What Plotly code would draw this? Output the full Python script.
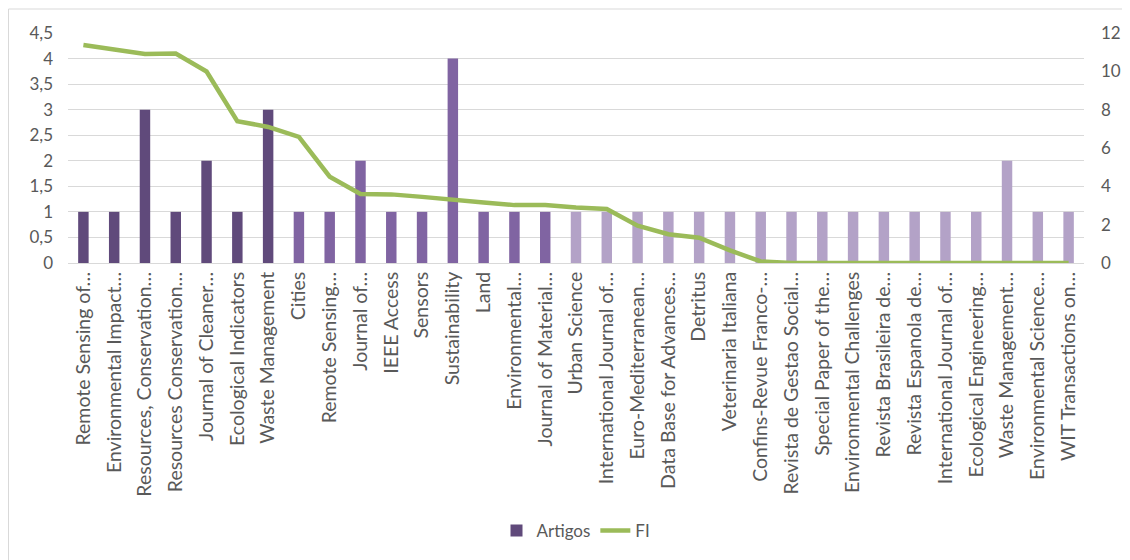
import plotly.graph_objects as go

categories = [
    "Remote Sensing of…", "Environmental Impact…", "Resources, Conservation…",
    "Resources Conservation…", "Journal of Cleaner…", "Ecological Indicators",
    "Waste Management", "Cities", "Remote Sensing…", "Journal of…", "IEEE Access",
    "Sensors", "Sustainability", "Land", "Environmental…", "Journal of Material…",
    "Urban Science", "International Journal of…", "Euro-Mediterranean…",
    "Data Base for Advances…", "Detritus", "Veterinaria Italiana",
    "Confins-Revue Franco-…", "Revista de Gestao Social…", "Special Paper of the…",
    "Environmental Challenges", "Revista Brasileira de…", "Revista Espanola de…",
    "International Journal of…", "Ecological Engineering…", "Waste Management…",
    "Environmental Science…", "WIT Transactions on…",
]
artigos = [1, 1, 3, 1, 2, 1, 3, 1, 1, 2, 1, 1, 4, 1, 1, 1,
           1, 1, 1, 1, 1, 1, 1, 1, 1, 1, 1, 1, 1, 1, 2, 1, 1]
fi = [11.37, 11.16, 10.9, 10.93, 9.99, 7.4, 7.1, 6.58, 4.5, 3.6, 3.58, 3.45,
      3.28, 3.16, 3.02, 3.02, 2.9, 2.82, 1.95, 1.5, 1.32, 0.66, 0.08,
      0, 0, 0, 0, 0, 0, 0, 0, 0, 0]
groups = [0]*7 + [1]*9 + [2]*17
group_colors = ["#604A7B", "#8064A2", "#B3A2C7"]
bar_colors = [group_colors[g] for g in groups]

x = list(range(len(categories)))
text_color = "#595959"
font_family = "Lato, 'Open Sans', sans-serif"

fig = go.Figure()
fig.add_trace(go.Bar(
    x=x, y=artigos, name="Artigos", marker=dict(color=bar_colors, line=dict(width=0)),
    yaxis="y",
))
fig.add_trace(go.Scatter(
    x=x, y=fi, name="FI", mode="lines", line=dict(color="#9BBB59", width=4.5),
    yaxis="y2",
))

W, H = 1122, 552
L, R, T, B = 60, 46, 25, 297
fig.update_layout(
    width=W, height=H,
    margin=dict(l=L, r=R, t=T, b=B, autoexpand=False),
    paper_bgcolor="white", plot_bgcolor="white",
    separators=", ",
    font=dict(family=font_family, color=text_color, size=17),
    bargap=0.66,
    showlegend=True,
    legend=dict(orientation="h", x=0.5, xanchor="center", y=-1.165, yanchor="middle",
                font=dict(size=17, color=text_color), traceorder="normal"),
    xaxis=dict(
        tickmode="array", tickvals=x, ticktext=categories, tickangle=-90,
        range=[-0.5, len(categories) - 0.5], showgrid=False,
        showline=True, linecolor="#D9D9D9", linewidth=1, ticks="",
        tickfont=dict(size=19.5, color=text_color),
    ),
    yaxis=dict(
        range=[0, 4.5], tick0=0, dtick=0.5, showgrid=True, gridcolor="#D9D9D9",
        gridwidth=1, zeroline=False, showline=False, ticks="",
        tickfont=dict(size=17, color=text_color), ticklabelstandoff=14,
    ),
    yaxis2=dict(
        range=[0, 12], tick0=0, dtick=2, overlaying="y", side="right",
        showgrid=False, zeroline=False, showline=False, ticks="",
        tickfont=dict(size=17, color=text_color), ticklabelstandoff=16,
    ),
)

# outer chart border (left and top edges)
pw, ph = W - L - R, H - T - B
bx = (0.5 - L) / pw
by_top = (H - B - 1) / ph
by_bot = (H - B - H) / ph
fig.add_shape(type="line", xref="paper", yref="paper", x0=bx, x1=bx,
              y0=by_bot, y1=by_top, line=dict(color="#D9D9D9", width=1))
fig.add_shape(type="line", xref="paper", yref="paper", x0=bx, x1=(W - L) / pw,
              y0=by_top, y1=by_top, line=dict(color="#D9D9D9", width=1))

fig.write_html("out.html")
